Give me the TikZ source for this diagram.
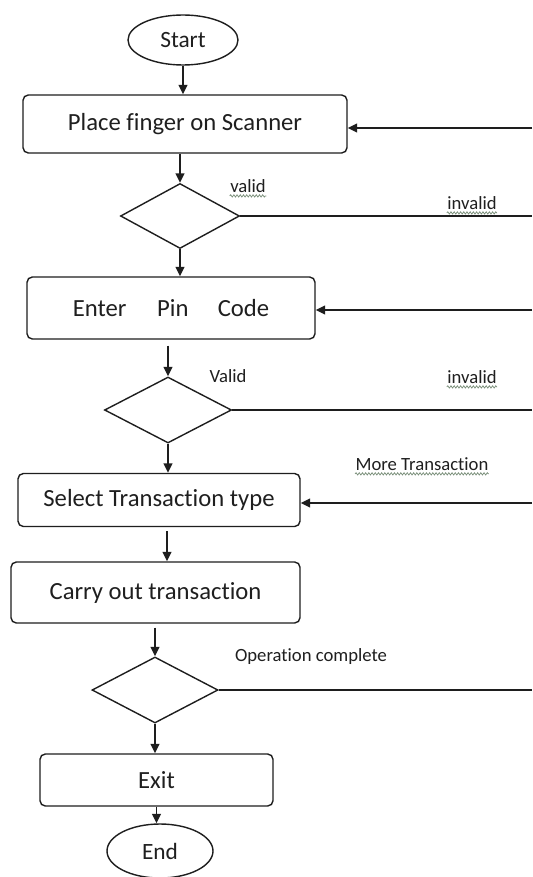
\documentclass[tikz,border=0pt]{standalone}
\usepackage{fontspec}
\setmainfont[Ligatures=NoCommon]{Carlito}
\usetikzlibrary{shapes.geometric,arrows.meta,calc,decorations.pathmorphing}
\definecolor{linec}{HTML}{1E1E1E}
\definecolor{txtc}{HTML}{1F1F1F}
\definecolor{squigc}{HTML}{7A8F7A}
\begin{document}
\begin{tikzpicture}[x=0.75pt,y=-0.75pt,
  line/.style={draw=linec,line width=1.05pt},
  arr/.style={line,-{Triangle[length=7pt,width=6.5pt]}},
  proc/.style={draw=linec,line width=1.05pt,rounded corners=4pt,inner sep=0pt,
    text=txtc,font=\fontsize{18.5}{20}\selectfont},
  term/.style={ellipse,draw=linec,line width=1.05pt,inner sep=0pt,
    text=txtc,font=\fontsize{17.5}{20}\selectfont},
  dec/.style={diamond,draw=linec,line width=1.05pt,inner sep=0pt},
  lab/.style={text=txtc,inner sep=1pt,font=\fontsize{14}{16}\selectfont},
  squig/.style={draw=squigc,line width=0.55pt,decorate,
    decoration={snake,segment length=2.4pt,amplitude=0.85pt}}]

\fill[white] (0,0) rectangle (532,877);
\useasboundingbox (0,0) rectangle (532,877);

% main column
\node[term,minimum width=82.5pt,minimum height=37.5pt] (start) at (183,40) {Start};
\node[proc,minimum width=243pt,minimum height=43.5pt] (p1) at (185,124) {Place finger on Scanner};
\node[dec,minimum width=89.25pt,minimum height=48.75pt] (d1) at (180,216) {};
\node[proc,minimum width=216pt,minimum height=46.5pt] (p2) at (171,308) {Enter\hspace{23pt}Pin\hspace{22pt}Code};
\node[dec,minimum width=95.25pt,minimum height=49.5pt] (d2) at (168,410) {};
\node[proc,minimum width=211.5pt,minimum height=39.75pt] (p3) at (159,500) {Select Transaction type};
\node[proc,minimum width=216.75pt,minimum height=45.75pt] (p4) at (155.5,592.5) {Carry out transaction};
\node[dec,minimum width=94.5pt,minimum height=49.5pt] (d3) at (155,690) {};
\node[proc,minimum width=174.75pt,minimum height=39pt] (p5) at (156.5,780) {Exit};
\node[term,minimum width=79.5pt,minimum height=40.5pt] (endn) at (160,851) {End};

% downward flow
\draw[arr] (start.south) -- (start.south |- p1.north);
\draw[arr] (d1.north |- p1.south) -- (d1.north);
\draw[arr] (d1.south) -- (d1.south |- p2.north);
\coordinate (a4) at ($(d2.north |- p2.south)+(0,6)$);
\draw[arr] (a4) -- (d2.north);
\draw[arr] (d2.south) -- (d2.south |- p3.north);
\coordinate (a6) at ($(p3.south)+(8,4)$);
\draw[arr] (a6) -- (a6 |- p4.north);
\coordinate (a7) at ($(d3.north |- p4.south)+(0,4)$);
\draw[arr] (a7) -- (d3.north);
\draw[arr] (d3.south) -- (d3.south |- p5.north);
\draw[arr] (p5.south) -- (p5.south |- endn.north);

% branches to the right edge and returns
\coordinate (r1) at (532,128);
\coordinate (r2) at (532,216);
\coordinate (r3) at (532,310);
\coordinate (r4) at (532,410);
\coordinate (r5) at (532,503);
\coordinate (r6) at (532,690);
\draw[arr] (r1) -- (r1 -| p1.east);
\draw[line] (d1.east) -- (r2);
\draw[arr] (r3) -- (r3 -| p2.east);
\draw[line] (d2.east) -- (r4);
\draw[arr] (r5) -- (r5 -| p3.east);
\draw[line] (d3.east) -- (r6);

% labels
\node[lab] (l1) at (248,186) {valid};
\node[lab] (l2) at (472,203) {invalid};
\node[lab] (l3) at (228,376) {Valid};
\node[lab] (l4) at (472,377) {invalid};
\node[lab] (l5) at (422,464) {More Transaction};
\node[lab] (l6) at (311,657) {Operation complete};

\foreach \n in {l1,l2,l4,l5}
  \draw[squig] ($(\n.base west)+(1,3.5)$) -- ($(\n.base east)+(-1,3.5)$);
\end{tikzpicture}
\end{document}
